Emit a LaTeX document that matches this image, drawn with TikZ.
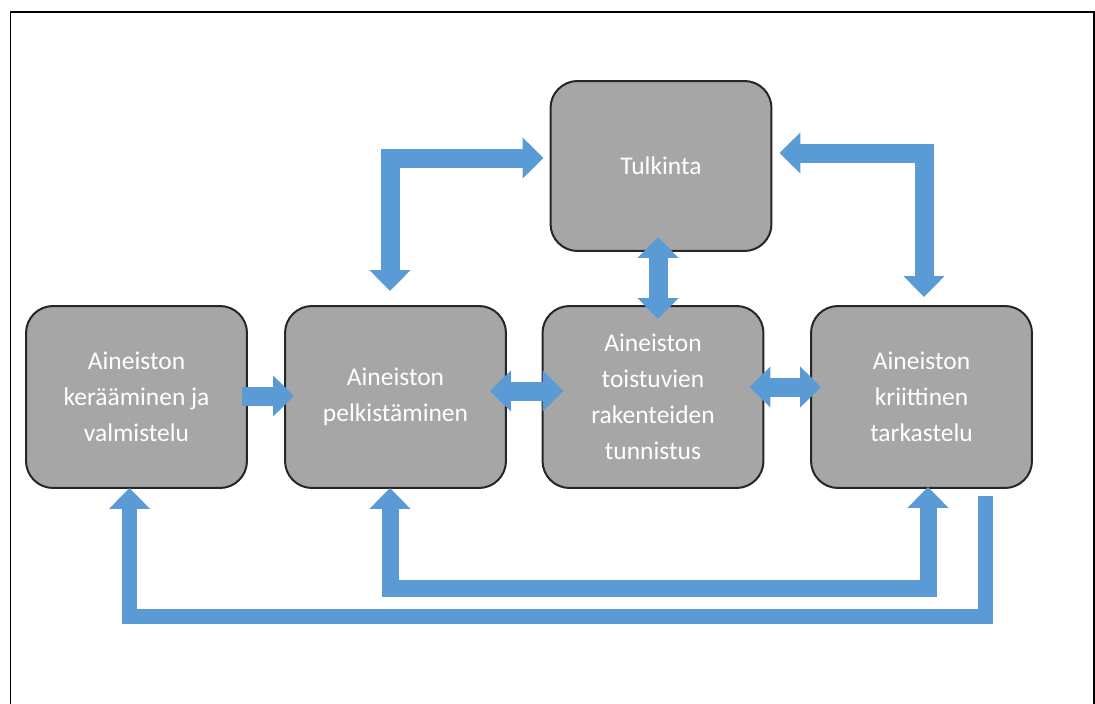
\documentclass[tikz,border=0pt]{standalone}
\usepackage{fontspec}
\setmainfont{Carlito}
\usetikzlibrary{arrows.meta,calc}
\definecolor{flowblue}{HTML}{5B9BD5}
\definecolor{boxgray}{HTML}{A6A6A6}
\definecolor{boxline}{HTML}{262626}
\tikzset{
  box/.style={draw=boxline, line width=0.04cm, fill=boxgray, rounded corners=0.54cm,
    minimum width=4.42cm, minimum height=3.64cm, align=center, text=white,
    font=\fontsize{14.5}{20.4}\selectfont},
  flow/.style={draw=flowblue, line width=0.38cm,
    arrows={-{Triangle[length=0.42cm,width=0.8cm]}}},
  flowboth/.style={flow, arrows={{Triangle[length=0.42cm,width=0.8cm]}-{Triangle[length=0.42cm,width=0.8cm]}}}
}
\begin{document}
\begin{tikzpicture}[x=0.02cm, y=-0.02cm]
    \useasboundingbox (0,0) rectangle (1095,703);
    \draw[line width=0.04cm] (10.5,710) -- (10.5,12) -- (1093.5,12) -- (1093.5,710);
    \node[box] (keruu) at (136.5,397) {Aineiston\\kerääminen ja\\valmistelu};
    \node[box] (pelk) at (395.5,397) {Aineiston\\pelkistäminen};
    \node[box] (rakenne) at (653,397) {Aineiston\\toistuvien\\rakenteiden\\tunnistus};
    \node[box] (kriit) at (921.5,397) {Aineiston\\kriittinen\\tarkastelu};
    \node[box, minimum height=3.40cm] (tulk) at (661,166) {Tulkinta};
    \draw[flowboth] ($(tulk.west)+(-6,-8)$) -| ($(pelk.north)+(-5.5,-14)$);
    \draw[flowboth] ($(tulk.east)+(7,-13)$) -| ($(kriit.north)+(2.5,-8)$);
    \draw[flowboth] ($(tulk.south)+(-3,-15)$) -- ($(rakenne.north)+(5,14)$);
    \draw[flow] ($(keruu.east)+(-6,-1)$) -- ($(pelk.west)+(10,-1)$);
    \draw[flowboth] ($(pelk.east)+(-17,-6)$) -- ($(rakenne.west)+(22,-6)$);
    \draw[flowboth] ($(rakenne.east)+(-15,-10)$) -- ($(kriit.west)+(11,-10)$);
    \draw[flowboth, line width=0.34cm] ($(pelk.south)+(-5.5,-1)$) -- ++(0,101) -| ($(kriit.south)+(6.5,-2)$);
    \draw[flow, line width=0.30cm] ($(kriit.south)+(63.5,7)$) -- ++(0,121) -| ($(keruu.south)+(-7,-1)$);
\end{tikzpicture}
\end{document}
